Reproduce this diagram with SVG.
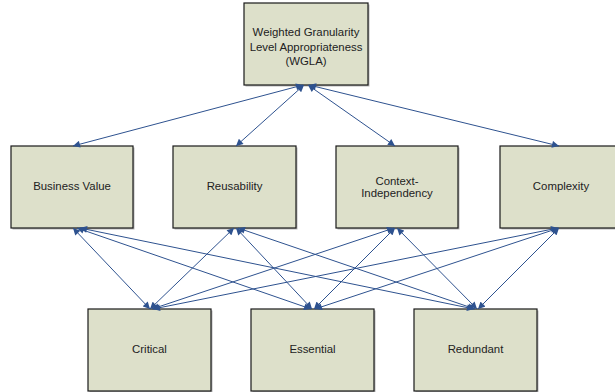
<svg xmlns="http://www.w3.org/2000/svg" width="615" height="392" viewBox="0 0 615 392">
<defs>
<style>
.box{fill:#dde0ca;stroke:#1a1a1a;stroke-width:1.2}
.sh{fill:#b8b8b8}
.t{font-family:"Liberation Sans",Arial,sans-serif;font-size:11.4px;fill:#222;text-anchor:middle}
.c{stroke:#2e528f;stroke-width:1;fill:none;marker-start:url(#a);marker-end:url(#a)}
</style>
<marker id="a" viewBox="0 0 10 10" refX="10" refY="5" markerWidth="8" markerHeight="7" markerUnits="userSpaceOnUse" orient="auto-start-reverse">
<path d="M0,0 L10,5 L0,10 z" fill="#2e528f"/>
</marker>
</defs>
<rect width="615" height="392" fill="#fff"/>
<g id="n-wgla">
<rect class="sh" x="245.5" y="4.5" width="124" height="82"/>
<rect class="box" x="244" y="3" width="124" height="82"/>
<text class="t" x="306" y="36">Weighted Granularity</text>
<text class="t" x="306" y="51">Level Appropriateness</text>
<text class="t" x="306" y="65">(WGLA)</text>
</g>
<g id="n-bv">
<rect class="sh" x="12.5" y="147.5" width="122" height="82"/>
<rect class="box" x="11" y="146" width="122" height="82"/>
<text class="t" x="72" y="190">Business Value</text>
</g>
<g id="n-reus">
<rect class="sh" x="174.5" y="147.5" width="123" height="82"/>
<rect class="box" x="173" y="146" width="123" height="82"/>
<text class="t" x="234.5" y="190">Reusability</text>
</g>
<g id="n-ctx">
<rect class="sh" x="337.5" y="147.5" width="122" height="82"/>
<rect class="box" x="336" y="146" width="122" height="82"/>
<text class="t" x="397" y="185">Context-</text>
<text class="t" x="397" y="197">Independency</text>
</g>
<g id="n-cplx">
<rect class="sh" x="501.5" y="147.5" width="122" height="82"/>
<rect class="box" x="500" y="146" width="122" height="82"/>
<text class="t" x="561" y="190">Complexity</text>
</g>
<g id="n-crit">
<rect class="sh" x="89.5" y="310.5" width="123" height="82"/>
<rect class="box" x="88" y="309" width="123" height="82"/>
<text class="t" x="149.5" y="353">Critical</text>
</g>
<g id="n-ess">
<rect class="sh" x="252.5" y="310.5" width="123" height="82"/>
<rect class="box" x="251" y="309" width="123" height="82"/>
<text class="t" x="312.5" y="353">Essential</text>
</g>
<g id="n-red">
<rect class="sh" x="415.5" y="310.5" width="123" height="82"/>
<rect class="box" x="414" y="309" width="123" height="82"/>
<text class="t" x="475.5" y="353">Redundant</text>
</g>
<g id="connectors">
<line class="c" x1="303" y1="85" x2="73" y2="146"/>
<line class="c" x1="304" y1="85" x2="236" y2="146"/>
<line class="c" x1="308" y1="85" x2="395" y2="146"/>
<line class="c" x1="309" y1="85" x2="559" y2="146"/>
<line class="c" x1="73" y1="228" x2="150" y2="309"/>
<line class="c" x1="77" y1="228" x2="311" y2="309"/>
<line class="c" x1="80" y1="228" x2="474" y2="309"/>
<line class="c" x1="234" y1="228" x2="150" y2="309"/>
<line class="c" x1="236" y1="228" x2="312" y2="309"/>
<line class="c" x1="238" y1="228" x2="475" y2="309"/>
<line class="c" x1="394" y1="228" x2="152" y2="309"/>
<line class="c" x1="395" y1="228" x2="314" y2="309"/>
<line class="c" x1="397" y1="228" x2="477" y2="309"/>
<line class="c" x1="558" y1="228" x2="153" y2="309"/>
<line class="c" x1="559" y1="228" x2="315" y2="309"/>
<line class="c" x1="559" y1="228" x2="478" y2="309"/>
</g>
</svg>
